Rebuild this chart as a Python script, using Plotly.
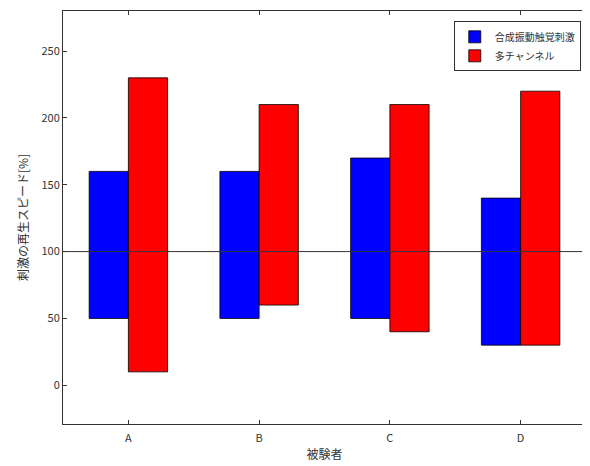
import plotly.graph_objects as go

subjects = ["A", "B", "C", "D"]
blue_low = [50, 50, 50, 30]
blue_high = [160, 160, 170, 140]
red_low = [10, 60, 40, 30]
red_high = [230, 210, 210, 220]
ref_value = 100
names = ["合成振動触覚刺激", "多チャンネル"]

font = "Noto Sans CJK JP"
fig = go.Figure()
fig.add_trace(go.Bar(
    x=subjects, y=[h - l for h, l in zip(blue_high, blue_low)], base=blue_low,
    name=names[0], marker=dict(color="#0000ff", line=dict(color="black", width=0.8)),
    width=0.3, offset=-0.3))
fig.add_trace(go.Bar(
    x=subjects, y=[h - l for h, l in zip(red_high, red_low)], base=red_low,
    name=names[1], marker=dict(color="#ff0000", line=dict(color="black", width=0.8)),
    width=0.3, offset=0.0))
fig.add_hline(y=ref_value, line=dict(color="#333333", width=1), layer="above")

# page body has an 8px default margin, so the figure is sized to fit the window
fig.update_layout(
    width=582, height=458,
    margin=dict(l=55, r=4, t=3, b=42),
    paper_bgcolor="white", plot_bgcolor="white",
    font=dict(family=font, size=11, color="#333333"),
    showlegend=True,
    legend=dict(x=0.99, y=0.975, xanchor="right", yanchor="top",
                bordercolor="#333333", borderwidth=1, bgcolor="white",
                font=dict(size=10, color="#333333"), tracegroupgap=0),
    xaxis=dict(title=dict(text="被験者", standoff=6, font=dict(size=12)),
               range=[-0.5, 3.5], showline=True, linecolor="#333333", mirror="ticks",
               ticks="inside", ticklen=4, tickcolor="#333333", showgrid=False,
               zeroline=False, automargin=False, ticklabelstandoff=4),
    yaxis=dict(title=dict(text="刺激の再生スピード[%]", standoff=10, font=dict(size=12)),
               range=[-29, 280], tickvals=[0, 50, 100, 150, 200, 250],
               showline=True, linecolor="#333333", mirror="ticks",
               ticks="inside", ticklen=4, tickcolor="#333333", showgrid=False,
               zeroline=False, automargin=False),
)
fig.write_html("out.html")
